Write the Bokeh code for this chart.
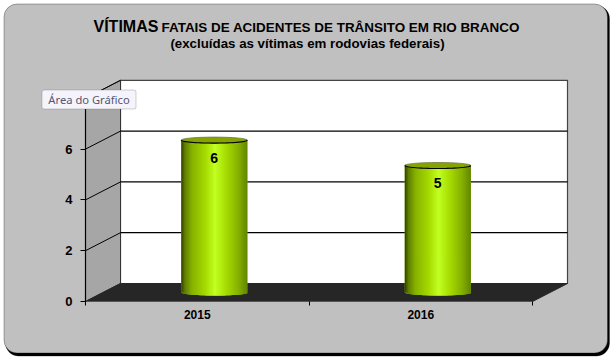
import numpy as np
from bokeh.embed import file_html
from bokeh.models import BoxAnnotation, FixedTicker, LinearAxis, Range1d
from bokeh.plotting import figure
from bokeh.resources import INLINE
from bokeh.core.properties import value

categories = ["2015", "2016"]
vitimas = [6, 5]
y_ticks = [0, 2, 4, 6, 8]

W, H = 615, 362
X0, PX_CAT = 85.0, 223.5     # pixel of x=0 and pixels per category
Y0, PX_VAL = 301.0, 25.4     # pixel of value 0 and pixels per unit
DX, DY = 35 / PX_CAT, 18 / PX_VAL   # 3-D depth in data units

def X(px): return (px - X0) / PX_CAT
def Y(px): return (Y0 - px) / PX_VAL

p = figure(width=W, height=H, output_backend="svg", toolbar_location=None,
           x_range=Range1d(X(0), X(W)), y_range=Range1d(Y(H), Y(0)),
           min_border=0, min_border_left=0, min_border_right=0, min_border_top=0, min_border_bottom=0,
           x_axis_type=None, y_axis_type=None, outline_line_color=None,
           background_fill_color="white", border_fill_color="white")
p.grid.visible = False

# outer panel with shadow
p.add_layout(BoxAnnotation(left=X(5), right=X(609), top=Y(5), bottom=Y(355.5), fill_color="black", fill_alpha=1,
                           line_color="black", border_radius=13, level="underlay"))
p.add_layout(BoxAnnotation(left=X(3.5), right=X(607), top=Y(3.5), bottom=Y(352.5), fill_color="#c0c0c0", fill_alpha=1,
                           line_color="black", line_width=1, border_radius=13, level="underlay"))

n = len(categories)
top = max(y_ticks)
# back wall
p.quad(left=[DX], right=[n + DX], bottom=[DY], top=[top + DY], fill_color="white", line_color="#444444", line_width=1.2)
# side wall
p.patch([0, DX, DX, 0], [0, DY, top + DY, top], fill_color="#a6a6a6", line_color="#333333", line_width=1)
# floor
p.patch([0, DX, n + DX, n], [0, DY, DY, 0], fill_color="#262626", line_color="#262626", line_width=1)

# gridlines
gl = [t for t in y_ticks if t not in (0, top)]
p.segment([DX] * len(gl), [t + DY for t in gl], [n + DX] * len(gl), [t + DY for t in gl], line_color="black", line_width=1.2)
p.segment([0] * len(gl + [top]), gl + [top], [DX] * len(gl + [top]), [t + DY for t in gl + [top]], line_color="black", line_width=1)

# cylinders
half = 33 / PX_CAT
cap = 3.0 / PX_VAL
u = np.linspace(-1, 1, 45)
stops_u = [-1.0, -0.92, -0.7, -0.3, 0.0, 0.3, 0.7, 1.0]
stops_r = [55, 95, 135, 165, 195, 170, 135, 95]
stops_g = [75, 125, 178, 218, 255, 225, 178, 130]
stops_b = [0, 0, 0, 0, 35, 5, 0, 0]
for i, v in enumerate(vitimas):
    cx = i + 0.5 + DX / 2 - 0.5 / PX_CAT
    base = DY / 2
    xs = cx + u * half
    w = xs[1] - xs[0]
    arc = cap * np.sqrt(np.clip(1 - u ** 2, 0, 1))
    colors = ["#%02x%02x%02x" % (int(r), int(g), int(b)) for r, g, b in zip(
        np.interp(u, stops_u, stops_r), np.interp(u, stops_u, stops_g), np.interp(u, stops_u, stops_b))]
    # opaque body first, shaded bands on top
    p.patch(np.r_[xs, xs[::-1]], np.r_[base - arc, np.full_like(xs, v + base)], fill_color="#96c800", line_color=None)
    rights = np.minimum(xs + w * 2, cx + half)
    p.quad(left=xs, right=rights, bottom=base - arc, top=v + base, fill_color=colors, line_color=None, fill_alpha=1.0)
    p.ellipse(x=[cx], y=[v + base], width=[2 * half], height=[2 * cap], fill_color="#86a400", line_color="#6d7a40", line_width=0.8)
    th = np.linspace(0, np.pi, 30)
    p.line(cx + half * np.cos(th), v + base - cap * np.sin(th), line_color="black", line_width=1.1)
    p.text([cx], [v + base - 17.5 / PX_VAL], text=[str(v)], text_align="center", text_baseline="middle",
           text_font=value("Liberation Sans"), text_font_style="bold", text_font_size="14px", text_color="black")

# axes in the front plane
ya = LinearAxis(fixed_location=0, ticker=FixedTicker(ticks=y_ticks), bounds=(0, top),
                major_label_text_font="Liberation Sans", major_label_text_font_style="bold",
                major_label_text_font_size="13px", major_label_text_color="black",
                major_tick_out=5, major_tick_in=0, minor_tick_line_color=None,
                major_label_standoff=8, axis_line_color="black", axis_line_width=1.2, major_tick_line_color="black")
p.add_layout(ya, "left")
xa = LinearAxis(fixed_location=0, ticker=FixedTicker(ticks=[0, 1, 2]), bounds=(0, n),
                major_label_text_color=None, major_label_text_font_size="1px",
                major_tick_out=4, major_tick_in=0, minor_tick_line_color=None,
                axis_line_color="#555555", axis_line_width=1.2, major_tick_line_color="black")
p.add_layout(xa, "below")
xl = LinearAxis(fixed_location=0, ticker=FixedTicker(ticks=[i + 0.5 for i in range(n)]),
                major_label_overrides={i + 0.5: c for i, c in enumerate(categories)},
                major_label_text_font="Liberation Sans", major_label_text_font_style="bold",
                major_label_text_font_size="12px", major_label_text_color="black",
                major_tick_line_color=None, minor_tick_line_color=None, axis_line_color=None,
                major_label_standoff=2)
p.add_layout(xl, "below")

# titles
font = value("Liberation Sans")
p.text([X(93)], [Y(26)], text=["VÍTIMAS"], text_font=font, text_font_style="bold", text_font_size="16px",
       text_baseline="middle", text_align="left", text_color="black")
p.text([X(161)], [Y(27)], text=["FATAIS DE ACIDENTES DE TRÂNSITO EM RIO BRANCO"], text_font=font, text_font_style="bold",
       text_font_size="13.45px", text_baseline="middle", text_align="left", text_color="black")
p.text([X(307)], [Y(43)], text=["(excluídas as vítimas em rodovias federais)"], text_font=font, text_font_style="bold",
       text_font_size="13.3px", text_baseline="middle", text_align="center", text_color="black")

# tooltip label
p.add_layout(BoxAnnotation(left=X(41.5), right=X(135.5), top=Y(89.5), bottom=Y(108.5), fill_color="#f4f4fa", fill_alpha=1,
                           line_color="#666666", line_width=1, border_radius=2))
tip = p.text([X(88.5)], [Y(99)], text=["Área do Gráfico"], text_font=value("Noto Sans"), text_font_size="11.2px",
             text_baseline="middle", text_align="center", text_color="#555577", level="overlay")

open("out.html", "w").write(file_html(p, INLINE))
